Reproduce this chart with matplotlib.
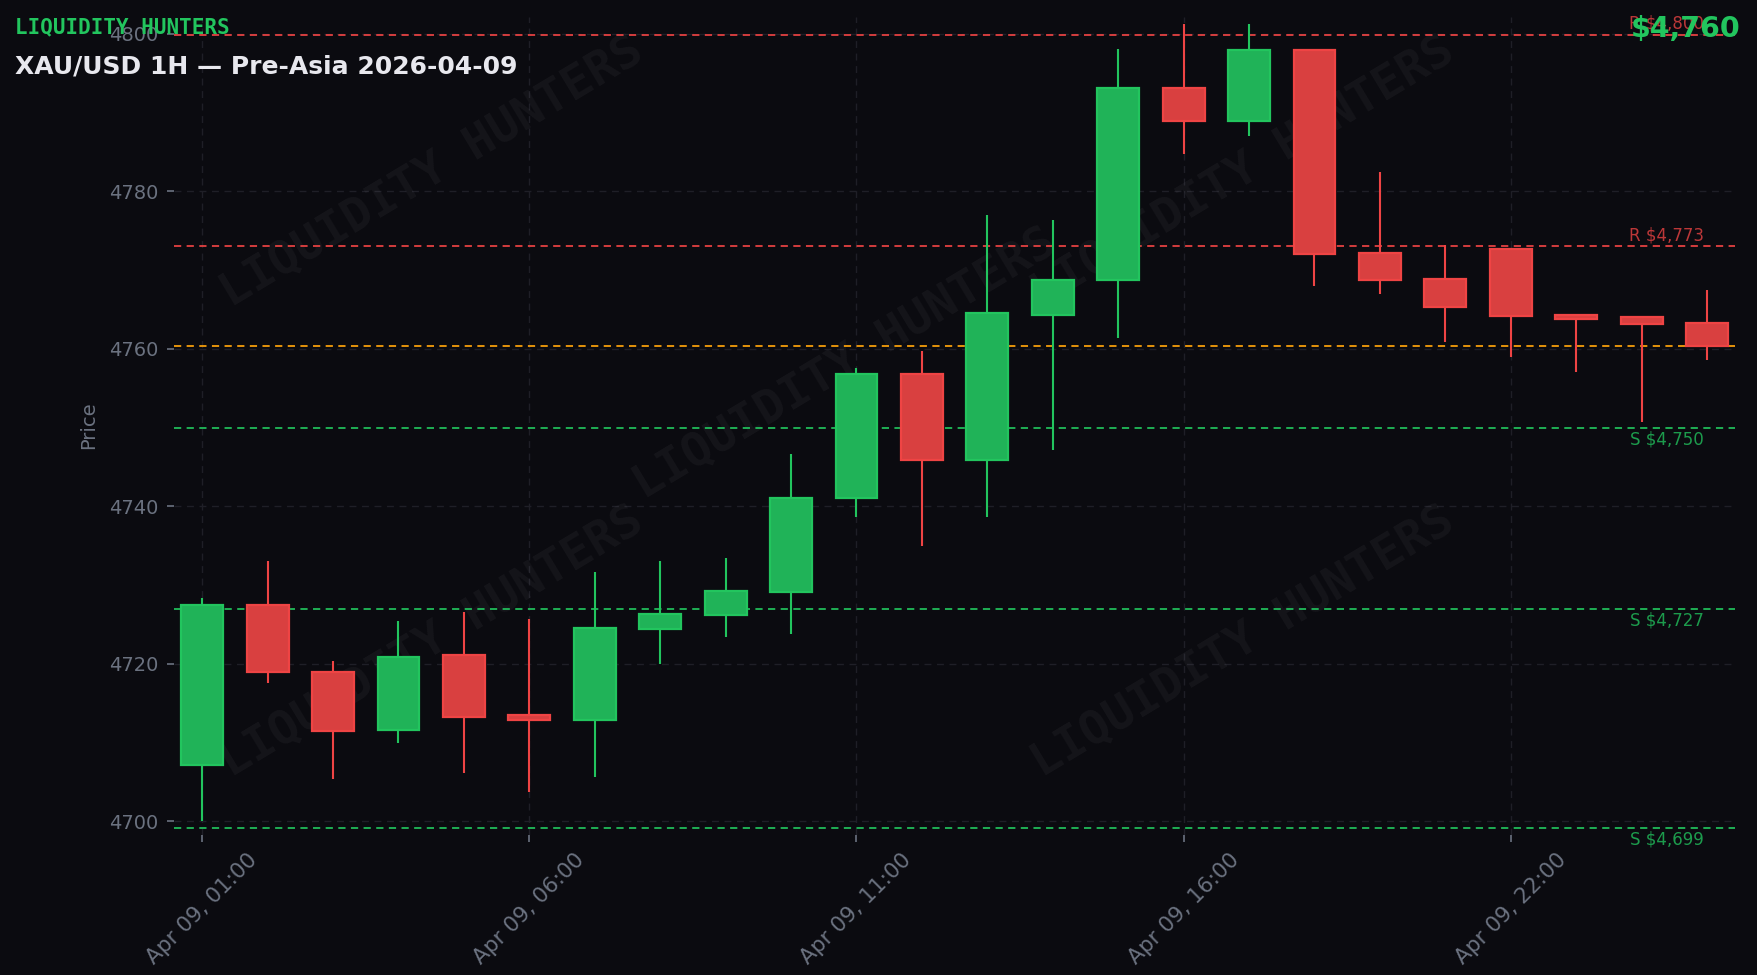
import matplotlib
matplotlib.use("Agg")
import matplotlib.pyplot as plt
from matplotlib.patches import Rectangle

# ---- data ----
tick_labels = ["Apr 09, 01:00", "Apr 09, 06:00", "Apr 09, 11:00", "Apr 09, 16:00", "Apr 09, 22:00"]
tick_index = [0, 5, 10, 15, 20]

opens = [4707.1, 4727.5, 4719.0, 4711.6, 4721.1, 4713.5, 4712.8, 4724.4, 4726.2, 4729.1,
         4741.1, 4756.8, 4745.9, 4764.3, 4768.8, 4793.1, 4788.9, 4797.9, 4772.2, 4768.9,
         4772.7, 4764.3, 4764.0, 4763.3]
highs = [4728.3, 4733.0, 4720.3, 4725.4, 4726.6, 4725.7, 4731.6, 4733.1, 4733.4, 4746.7,
         4757.6, 4759.7, 4777.0, 4776.4, 4798.1, 4801.2, 4801.2, 4798.1, 4782.5, 4773.2,
         4772.7, 4764.3, 4764.0, 4767.5]
lows = [4700.0, 4717.6, 4705.4, 4709.9, 4706.1, 4703.7, 4705.6, 4720.0, 4723.4, 4723.8,
        4738.6, 4735.0, 4738.6, 4747.2, 4761.4, 4784.7, 4787.0, 4768.0, 4766.9, 4760.9,
        4759.0, 4757.1, 4750.7, 4758.6]
closes = [4727.5, 4718.9, 4711.5, 4720.9, 4713.2, 4712.9, 4724.5, 4726.3, 4729.2, 4741.1,
          4756.8, 4745.9, 4764.5, 4768.7, 4793.1, 4788.9, 4797.9, 4772.1, 4768.8, 4765.3,
          4764.2, 4763.8, 4763.2, 4760.4]

resistance = [4799.9, 4773.0]
support = [4750.0, 4727.0, 4699.2]
current_price = 4760.4

BG = "#0b0b10"
GREEN = "#22c55e"
GREEN_FILL = "#20b358"
RED = "#ef4444"
RED_FILL = "#d94040"
ORANGE = "#f59e0b"
GRAY = "#6b7280"
GRID = "#1f1f27"

fig = plt.figure(figsize=(17.58, 9.75), dpi=100, facecolor=BG)
ax = fig.add_axes([0.099, 0.144, 0.888, 0.839], facecolor=BG)

# watermarks
for fx, fy in [(0.165, 0.81), (0.43, 0.575), (0.685, 0.81), (0.165, 0.235), (0.685, 0.235)]:
    ax.text(fx, fy, "LIQUIDITY HUNTERS", transform=ax.transAxes, rotation=31,
            ha="center", va="center", fontsize=34, family="DejaVu Sans Mono",
            fontweight="bold", color="white", alpha=0.045, zorder=1)

ax.grid(True, color=GRID, linestyle=(0, (5, 4)), linewidth=1.0, zorder=0)
ax.set_axisbelow(True)

width = 0.64
for i, (o, h, l, c) in enumerate(zip(opens, highs, lows, closes)):
    up = c >= o
    edge = GREEN if up else RED
    fill = GREEN_FILL if up else RED_FILL
    ax.vlines(i, l, h, color=edge, linewidth=1.5, zorder=3)
    lo, hi = min(o, c), max(o, c)
    ax.add_patch(Rectangle((i - width / 2, lo), width, max(hi - lo, 0.05),
                           facecolor=fill, edgecolor=edge, linewidth=1.6, zorder=4))

last = len(closes) - 1
for r in resistance:
    ax.axhline(r, color=RED, linestyle=(0, (4, 3)), linewidth=1.3, alpha=0.95, zorder=2)
    ax.text(last - 0.05, r + 0.25, f"R ${r:,.0f}", color=RED, alpha=0.78, fontsize=12,
            ha="right", va="bottom", zorder=5)
for s in support:
    ax.axhline(s, color=GREEN, linestyle=(0, (4, 3)), linewidth=1.3, alpha=0.95, zorder=2)
    ax.text(last - 0.05, s - 0.35, f"S ${s:,.0f}", color=GREEN, alpha=0.78, fontsize=12,
            ha="right", va="top", zorder=5)
ax.axhline(current_price, color=ORANGE, linestyle=(0, (4, 3)), linewidth=1.3, zorder=2)

ax.set_xlim(-0.43, last + 0.43)
ax.set_ylim(4698.3, 4802.2)
ax.set_xticks(tick_index)
ax.set_xticklabels(tick_labels, rotation=45, ha="center", fontsize=15.5)
ax.set_yticks([4700, 4720, 4740, 4760, 4780, 4800])
ax.tick_params(colors=GRAY, length=5, width=1.2, pad=6)
ax.tick_params(axis="y", labelsize=14)
for sp in ax.spines.values():
    sp.set_visible(False)
ax.set_ylabel("Price", color=GRAY, fontsize=14, labelpad=8)

fig.text(0.0085, 0.982, "LIQUIDITY HUNTERS", color=GREEN, fontsize=15,
         family="DejaVu Sans Mono", fontweight="bold", ha="left", va="top")
fig.text(0.0085, 0.944, "XAU/USD 1H — Pre-Asia 2026-04-09", color="#e8e8ee",
         fontsize=18, fontweight="bold", ha="left", va="top")
fig.text(0.990, 0.985, f"${current_price:,.0f}", color=GREEN, fontsize=20.5,
         fontweight="bold", ha="right", va="top")

fig.savefig("out.png", dpi=100, facecolor=BG)
